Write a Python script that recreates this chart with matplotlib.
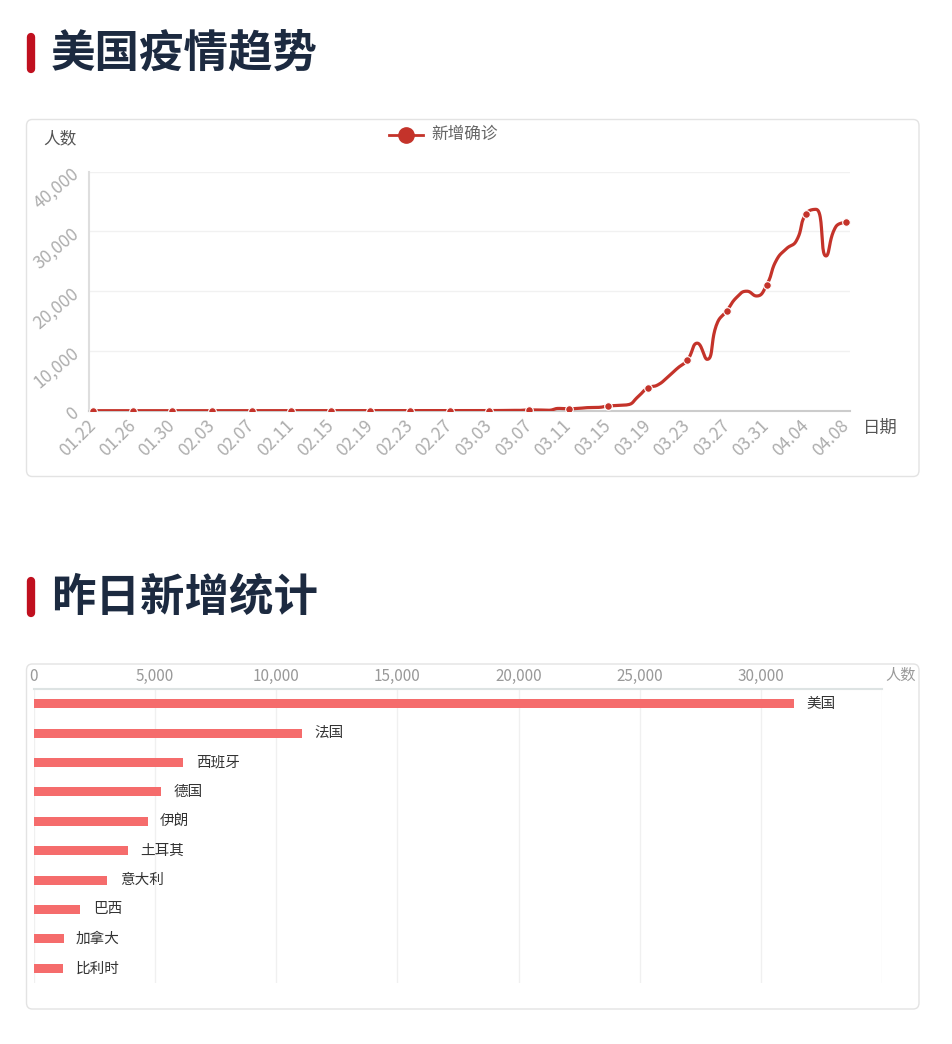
import numpy as np
import pandas as pd
import matplotlib
matplotlib.use('Agg')
import matplotlib.pyplot as plt
from matplotlib.lines import Line2D
from matplotlib.patches import FancyBboxPatch

plt.rcParams['font.family'] = ['Noto Sans CJK SC', 'DejaVu Sans']

W, H = 953, 1044

# daily categories 01.22 .. 04.08 (source data has no 02.29)
dates = pd.date_range('2019-01-22', '2019-04-08').strftime('%m.%d').tolist()

new_cases = [
    1, 0, 1, 0, 3, 0, 0, 0, 0, 1,
    1, 0, 3, 0, 0, 1, 0, 0, 0, 0,
    1, 0, 0, 1, 0, 0, 0, 0, 0, 0,
    2, 0, 0, 0, 1, 0, 1, 2, 8, 23,
    20, 30, 70, 50, 130, 120, 70, 380, 330, 390,
    520, 550, 780, 880, 1000, 2300, 3800, 4300, 5600, 7100,
    8470, 11300, 8600, 14600, 16750, 19000, 20000, 19200, 21000, 25200,
    27100, 28400, 33000, 33700, 25900, 30800, 31500,
]

countries = ['美国', '法国', '西班牙', '德国', '伊朗', '土耳其', '意大利', '巴西', '加拿大', '比利时']
country_new = [31380, 11070, 6160, 5260, 4690, 3890, 3020, 1910, 1220, 1210]

line_color = '#c4332a'
bar_color = '#f56c6c'
title_color = '#1c2a40'


def fx(x):
    return x / W


def fy(y):
    return 1 - y / H


def echarts_smooth(ax, xs, ys, smooth=0.5, steps=24):
    # same bezier control points as echarts' smooth line, done in pixel space
    pts = ax.transData.transform(np.column_stack([xs, ys]))
    n = len(pts)
    out = [pts[0]]
    cp0 = pts[0]
    t = np.linspace(0, 1, steps)[1:, None]
    for i in range(1, n):
        p = pts[i]
        prev = pts[i - 1]
        if i < n - 1:
            nxt = pts[i + 1]
            v = nxt - prev
            len_prev = np.hypot(*(p - prev))
            len_next = np.hypot(*(nxt - p))
            ratio = len_next / (len_next + len_prev)
            ncp = p + v * smooth * ratio
            ncp = np.maximum(np.minimum(ncp, np.maximum(nxt, p)), np.minimum(nxt, p))
            v = ncp - p
            cp1 = p - v * len_prev / len_next
            cp1 = np.maximum(np.minimum(cp1, np.maximum(prev, p)), np.minimum(prev, p))
            v = p - cp1
            ncp = p + v * len_next / len_prev
        else:
            cp1 = p
            ncp = p
        seg = (1 - t) ** 3 * prev + 3 * (1 - t) ** 2 * t * cp0 + 3 * (1 - t) * t ** 2 * cp1 + t ** 3 * p
        out.extend(seg)
        cp0 = ncp
    return ax.transData.inverted().transform(np.array(out))


fig = plt.figure(figsize=(W / 100, H / 100), dpi=100)
fig.patch.set_facecolor('white')

# panel boxes
for top, bottom in [(119.5, 476.5), (664, 1009)]:
    box = FancyBboxPatch((fx(26.5), fy(bottom)), fx(919) - fx(26.5), (bottom - top) / H,
                         boxstyle='round,pad=0,rounding_size=0.006', transform=fig.transFigure,
                         fc='white', ec='#e3e3e3', lw=1, zorder=-1)
    fig.patches.append(box)

# section titles
for text, yc in [('美国疫情趋势', 53), ('昨日新增统计', 597)]:
    fig.add_artist(Line2D([fx(31), fx(31)], [fy(yc - 16), fy(yc + 16)], color='#c0101f',
                          lw=6, solid_capstyle='round'))
    fig.text(fx(51), fy(yc + 1), text, fontsize=32, fontweight='bold', color=title_color,
             va='center', ha='left')

# ---- line chart ----
ax1 = fig.add_axes([fx(89), fy(410.7), (850 - 89) / W, (410.7 - 171.7) / H])
ax1.set_facecolor('none')
ax1.set_xlim(-0.43, 76.43)
ax1.set_ylim(0, 40000)
x = np.arange(len(new_cases))
curve = echarts_smooth(ax1, x, new_cases)
ax1.plot(curve[:, 0], curve[:, 1], color=line_color, lw=2.3, solid_capstyle='round', zorder=3)
ax1.plot(x[::4], np.array(new_cases)[::4], 'o', ms=5.5, mfc=line_color, mec='white', mew=0.8, zorder=4)

ax1.set_xticks(x[::4])
ax1.set_xticklabels(dates[::4], rotation=45, ha='right', va='center', rotation_mode='anchor')
ax1.set_yticks(range(0, 40001, 10000))
ax1.set_yticklabels(['{:,}'.format(v) for v in range(0, 40001, 10000)], rotation=40,
                    ha='right', va='center', rotation_mode='anchor')
ax1.tick_params(axis='x', length=0, pad=9, labelsize=12.5, labelcolor='#adadad')
ax1.tick_params(axis='y', length=0, pad=9, labelsize=12.5, labelcolor='#adadad')
ax1.grid(axis='y', color='#f1f1f1', lw=1)
ax1.set_axisbelow(True)
for s in ['top', 'right']:
    ax1.spines[s].set_visible(False)
ax1.spines['left'].set_color('#dedede')
ax1.spines['left'].set_linewidth(1.5)
ax1.spines['bottom'].set_color('#cccccc')
ax1.spines['bottom'].set_linewidth(1.5)

fig.text(fx(60), fy(139), '人数', fontsize=12, color='#555555', ha='center', va='center')
fig.text(fx(880), fy(428), '日期', fontsize=12.5, color='#555555', ha='center', va='center')

# legend
fig.add_artist(Line2D([fx(389), fx(423)], [fy(135), fy(135)], color=line_color, lw=2))
fig.add_artist(Line2D([fx(406)], [fy(135)], marker='o', ms=11, color=line_color, mec=line_color))
fig.text(fx(431), fy(134), '新增确诊', fontsize=12, color='#666666', ha='left', va='center')

# ---- bar chart ----
ax2 = fig.add_axes([fx(34), fy(983), (882 - 34) / W, (983 - 689) / H])
ax2.set_facecolor('none')
ypos = np.arange(len(countries))
ax2.barh(ypos, country_new, height=0.3, color=bar_color, zorder=3)
for yi, (name, v) in enumerate(zip(countries, country_new)):
    ax2.annotate(name, (v, yi), xytext=(9, 0), textcoords='offset points',
                 ha='left', va='center', fontsize=10.5, color='#333333')
ax2.set_xlim(0, 35000)
ax2.set_ylim(9.5, -0.5)
ax2.set_xticks(range(0, 35001, 5000))
ax2.set_xticklabels(['{:,}'.format(v) for v in range(0, 30001, 5000)] + [''])
ax2.set_yticks([])
ax2.xaxis.tick_top()
ax2.tick_params(axis='x', length=0, pad=3, labelsize=11, labelcolor='#999999')
ax2.grid(axis='x', color='#f0f0f0', lw=1)
ax2.set_axisbelow(True)
for s in ['bottom', 'left', 'right']:
    ax2.spines[s].set_visible(False)
ax2.spines['top'].set_color('#dde3e3')
ax2.spines['top'].set_linewidth(1.5)

fig.text(fx(901), fy(675), '人数', fontsize=11, color='#999999', ha='center', va='center')

fig.savefig('out.png', dpi=100)
